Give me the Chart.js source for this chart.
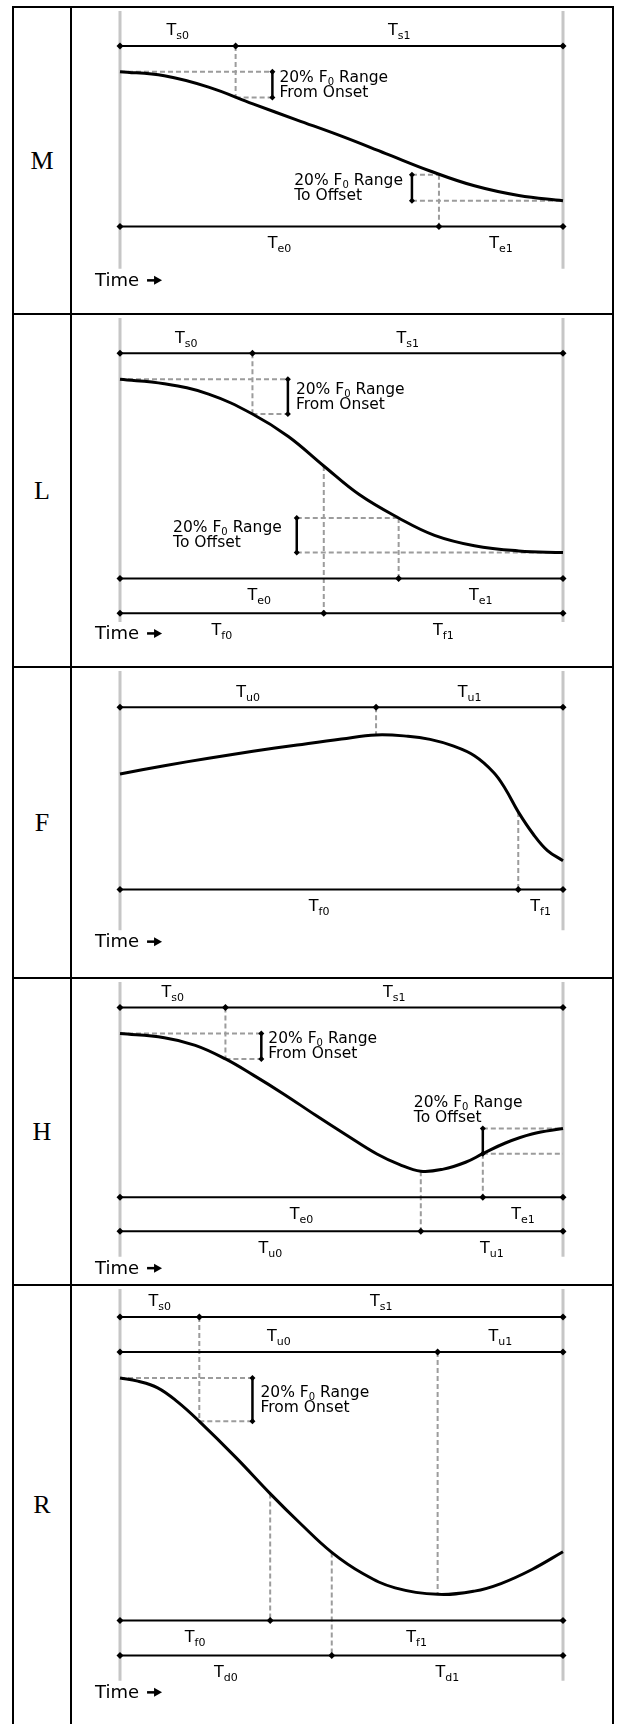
<!DOCTYPE html>
<html>
<head>
<meta charset="utf-8">
<script src="https://cdn.jsdelivr.net/npm/chart.js@4.4.1/dist/chart.umd.min.js"></script>
<style>
  html, body { margin: 0; padding: 0; background: #fff; }
  #page { position: relative; width: 620px; height: 1724px; overflow: hidden; }
  .rule { position: absolute; background: #000; z-index: 5; }
  .tag { position: absolute; left: 14px; width: 56px; display: flex; align-items: center; justify-content: center;
         font: 26px "Liberation Serif", "Times New Roman", serif; color: #000; }
  canvas { position: absolute; left: 72px; }
</style>
</head>
<body>
<div id="page"></div>
<script>
// time runs 0 (onset) .. 100 (offset), F0 is in % of the fall range
const panelNames = ['M', 'L', 'F', 'H', 'R'];

// M
const mTime = [0, 10, 20, 30, 40, 50, 60, 70, 80, 90, 100];
const mF0 = [100, 96.8, 88, 75, 62.5, 50, 36.5, 23, 11.5, 4, 0];
const mLevels = [120, -20];
const mBreaks = [[0, 26.1, 100], [0, 72, 100]];
const mSubs = [['s0', 's1'], ['e0', 'e1']];
const mDashes = [[0, 100, 34.4, 100], [26.1, 120, 26.1, 80], [26.1, 80, 34.4, 80],
                 [65.9, 20, 72, 20], [65.9, 0, 100, 0], [72, 20, 72, -20]];
const mBrackets = [[34.4, 100, 80], [65.9, 20, 0]];

// L
const lTime = [0, 10, 20, 29.9, 38, 46, 54, 62.9, 71, 80, 90, 100];
const lF0 = [100, 97.5, 91.5, 80, 67, 50, 33.5, 20, 10, 4, 1, 0];
const lLevels = [115, -15, -35];
const lBreaks = [[0, 29.9, 100], [0, 62.9, 100], [0, 46, 100]];
const lSubs = [['s0', 's1'], ['e0', 'e1'], ['f0', 'f1']];
const lDashes = [[0, 100, 37.9, 100], [29.9, 115, 29.9, 80], [29.9, 80, 37.9, 80],
                 [39.9, 20, 62.9, 20], [39.9, 0, 100, 0], [62.9, 20, 62.9, -15], [46, 50, 46, -35]];
const lBrackets = [[37.9, 100, 80], [39.9, 20, 0]];

// F
const fTime = [0, 10, 20, 30, 40, 50, 57.8, 65, 70, 75, 80, 84.4, 87, 89.9, 93.3, 96.5, 100];
const fF0 = [69, 75.5, 81.5, 87, 92, 96.8, 100, 99, 96.5, 91.5, 83.5, 70, 57, 38.8, 21, 8, 0];
const fLevels = [122, -23];
const fBreaks = [[0, 57.8, 100], [0, 89.9, 100]];
const fSubs = [['u0', 'u1'], ['f0', 'f1']];
const fDashes = [[57.8, 122, 57.8, 100], [89.9, 38.8, 89.9, -23]];
const fBrackets = [];

// H
const hTime = [0, 10, 17, 23.8, 30, 37, 44, 51, 58, 63, 67.9, 73, 78, 81.9, 87, 93, 100];
const hF0 = [100, 97, 91.5, 81.6, 70, 56, 41, 26.5, 12.5, 5, 0, 1.5, 6.5, 12.7, 20.5, 27, 31];
const hLevels = [119, -19, -43.7];
const hBreaks = [[0, 23.8, 100], [0, 81.9, 100], [0, 67.9, 100]];
const hSubs = [['s0', 's1'], ['e0', 'e1'], ['u0', 'u1']];
const hDashes = [[0, 100, 31.9, 100], [23.8, 119, 23.8, 81.6], [23.8, 81.6, 31.9, 81.6],
                 [81.9, 31, 100, 31], [81.9, 12.7, 100, 12.7], [81.9, 12.7, 81.9, -19], [67.9, 0, 67.9, -43.7]];
const hBrackets = [[31.9, 100, 81.6], [81.9, 31, 12.7]];

// R
const rTime = [0, 4, 8.5, 13, 17.9, 26.3, 33.9, 40.6, 47.8, 54.9, 62.1, 71.7, 80, 86, 93, 100];
const rF0 = [100, 98.6, 95.5, 89, 80, 63, 46.6, 33, 19.4, 9.5, 3, 0, 1.5, 5, 11.5, 19.7];
const rLevels = [128.3, 112.1, -12.1, -28.3];
const rBreaks = [[0, 17.9, 100], [0, 71.7, 100], [0, 33.9, 100], [0, 47.8, 100]];
const rSubs = [['s0', 's1'], ['u0', 'u1'], ['f0', 'f1'], ['d0', 'd1']];
const rDashes = [[0, 100, 29.9, 100], [17.9, 128.3, 17.9, 80], [17.9, 80, 29.9, 80],
                 [71.7, 112.1, 71.7, 0], [33.9, 46.6, 33.9, -12.1], [47.8, 19.4, 47.8, -28.3]];
const rBrackets = [[29.9, 100, 80]];

// layout of the table rows (pixels) and the value range each row shows
const rowTops = [7, 314, 667, 978, 1285];
const rowHeights = [307, 353, 311, 307, 439];
const yRanges = [[-84.8, 147.05], [-63.7, 135.4], [-90.2, 150.9], [-79.8, 137.5], [-58.1, 141.2]];
const grayEnds = [-52.9, -40, -55.3, -62.1, -40];
const noteSides = [['right', 'left'], ['right', 'left'], [], ['right', 'above'], ['right']];
const noteGaps = [[7, 9], [8, 15], [], [7, 69], [8]];

const panels = [
  [mTime, mF0, mLevels, mBreaks, mSubs, mDashes, mBrackets],
  [lTime, lF0, lLevels, lBreaks, lSubs, lDashes, lBrackets],
  [fTime, fF0, fLevels, fBreaks, fSubs, fDashes, fBrackets],
  [hTime, hF0, hLevels, hBreaks, hSubs, hDashes, hBrackets],
  [rTime, rF0, rLevels, rBreaks, rSubs, rDashes, rBrackets]
];

const SANS = '"DejaVu Sans", Verdana, sans-serif';
const page = document.getElementById('page');

// table rules
function rule(l, t, w, h) {
  const d = document.createElement('div');
  d.className = 'rule';
  d.style.left = l + 'px'; d.style.top = t + 'px';
  d.style.width = w + 'px'; d.style.height = h + 'px';
  page.appendChild(d);
}
rule(12, 6, 602, 2);
rule(12, 6, 2, 1718);
rule(70, 6, 2, 1718);
rule(612, 6, 2, 1718);
rowTops.slice(1).forEach(t => rule(12, t - 1, 602, 2));

// width of a run of [text, isSubscript] parts
function richWidth(ctx, parts, size, subSize) {
  let w = 0;
  parts.forEach(([txt, sub]) => {
    ctx.font = (sub ? subSize : size) + 'px ' + SANS;
    w += ctx.measureText(txt).width;
  });
  return w;
}
function drawRich(ctx, parts, x, base, size, subSize, drop) {
  let cx = x;
  parts.forEach(([txt, sub]) => {
    ctx.font = (sub ? subSize : size) + 'px ' + SANS;
    ctx.fillText(txt, cx, base + (sub ? drop : 0));
    cx += ctx.measureText(txt).width;
  });
}

panels.forEach((p, i) => {
  const [times, f0, levels, breaks, subs, dashes, brackets] = p;
  const [yMin, yMax] = yRanges[i];

  const tag = document.createElement('div');
  tag.className = 'tag';
  tag.style.top = rowTops[i] + 'px';
  tag.style.height = rowHeights[i] + 'px';
  tag.textContent = panelNames[i];
  page.appendChild(tag);

  const canvas = document.createElement('canvas');
  canvas.width = 540; canvas.height = rowHeights[i];
  canvas.style.top = rowTops[i] + 'px';
  page.appendChild(canvas);

  const datasets = [];
  // light grey onset / offset markers
  [0, 100].forEach(t => datasets.push({
    data: [{ x: t, y: yMax }, { x: t, y: grayEnds[i] }],
    borderColor: '#c6c6c6', borderWidth: 3, pointRadius: 0, order: 6
  }));
  dashes.forEach(d => datasets.push({
    data: [{ x: d[0], y: d[1] }, { x: d[2], y: d[3] }],
    borderColor: '#9c9c9c', borderWidth: 2, borderDash: [5, 3], pointRadius: 0, order: 5
  }));
  datasets.push({
    data: times.map((t, k) => ({ x: t, y: f0[k] })),
    borderColor: '#000', borderWidth: 3, tension: 0.4, pointRadius: 0, order: 3
  });
  levels.forEach((lv, k) => datasets.push({
    data: breaks[k].map(t => ({ x: t, y: lv })),
    borderColor: '#000', borderWidth: 2, pointStyle: 'rectRot', pointRadius: 3.5,
    pointBackgroundColor: '#000', pointBorderWidth: 0, order: 2
  }));
  brackets.forEach(b => datasets.push({
    data: [{ x: b[0], y: b[1] }, { x: b[0], y: b[2] }],
    borderColor: '#000', borderWidth: 2.5, pointStyle: 'rectRot', pointRadius: 3,
    pointBackgroundColor: '#000', pointBorderWidth: 0, order: 1
  }));
  datasets.forEach(d => { d.clip = false; d.fill = false; });

  const labelPlugin = {
    id: 'labels' + i,
    afterDatasetsDraw(chart) {
      const ctx = chart.ctx;
      const xs = chart.scales.x, ys = chart.scales.y;
      ctx.save();
      ctx.fillStyle = '#000';
      ctx.textBaseline = 'alphabetic';
      ctx.textAlign = 'left';

      // T labels on each timeline
      levels.forEach((lv, k) => {
        const py = ys.getPixelForValue(lv);
        const base = lv > 50 ? py - 10.5 : py + 21.5;
        subs[k].forEach((s, j) => {
          const mid = xs.getPixelForValue((breaks[k][j] + breaks[k][j + 1]) / 2);
          const parts = [['T', 0], [s, 1]];
          const w = richWidth(ctx, parts, 16, 11);
          drawRich(ctx, parts, mid - w / 2, base, 16, 11, 4);
        });
      });

      // 20% range notes
      brackets.forEach((b, k) => {
        const bx = xs.getPixelForValue(b[0]);
        const top = ys.getPixelForValue(b[1]), bot = ys.getPixelForValue(b[2]);
        const lines = [[['20% F', 0], ['0', 1], [' Range', 0]], [[b[1] === 100 ? 'From Onset' : 'To Offset', 0]]];
        const w = Math.max(...lines.map(l => richWidth(ctx, l, 15.5, 10)));
        const side = noteSides[i][k], gap = noteGaps[i][k];
        let x, c1;
        if (side === 'right') { x = bx + gap; c1 = (top + bot) / 2 - 7.5; }
        else if (side === 'left') { x = bx - gap - w; c1 = (top + bot) / 2 - 7.5; }
        else { x = bx - gap; c1 = top - 26; }
        lines.forEach((l, n) => drawRich(ctx, l, x, c1 + n * 15 + 4.5, 15.5, 10, 3));
      });

      // Time axis caption with arrow
      const gx = xs.getPixelForValue(0);
      const base = ys.getPixelForValue(grayEnds[i]) + 17;
      ctx.font = '18px ' + SANS;
      ctx.fillText('Time', gx - 25, base);
      const ax = gx - 25 + ctx.measureText('Time').width + 8;
      const ay = base - 5.5;
      ctx.fillRect(ax, ay - 1.25, 9, 2.5);
      ctx.beginPath();
      ctx.moveTo(ax + 7, ay - 4.5);
      ctx.lineTo(ax + 15, ay);
      ctx.lineTo(ax + 7, ay + 4.5);
      ctx.closePath();
      ctx.fill();
      ctx.restore();
    }
  };

  new Chart(canvas, {
    type: 'line',
    data: { datasets },
    options: {
      responsive: false,
      animation: false,
      events: [],
      layout: { padding: { left: 48, right: 49, top: 0, bottom: 0 } },
      elements: { line: { tension: 0 } },
      plugins: { legend: { display: false }, tooltip: { enabled: false } },
      scales: {
        x: { type: 'linear', min: 0, max: 100, display: false },
        y: { type: 'linear', min: yMin, max: yMax, display: false }
      }
    },
    plugins: [labelPlugin]
  });
});
</script>
</body>
</html>
